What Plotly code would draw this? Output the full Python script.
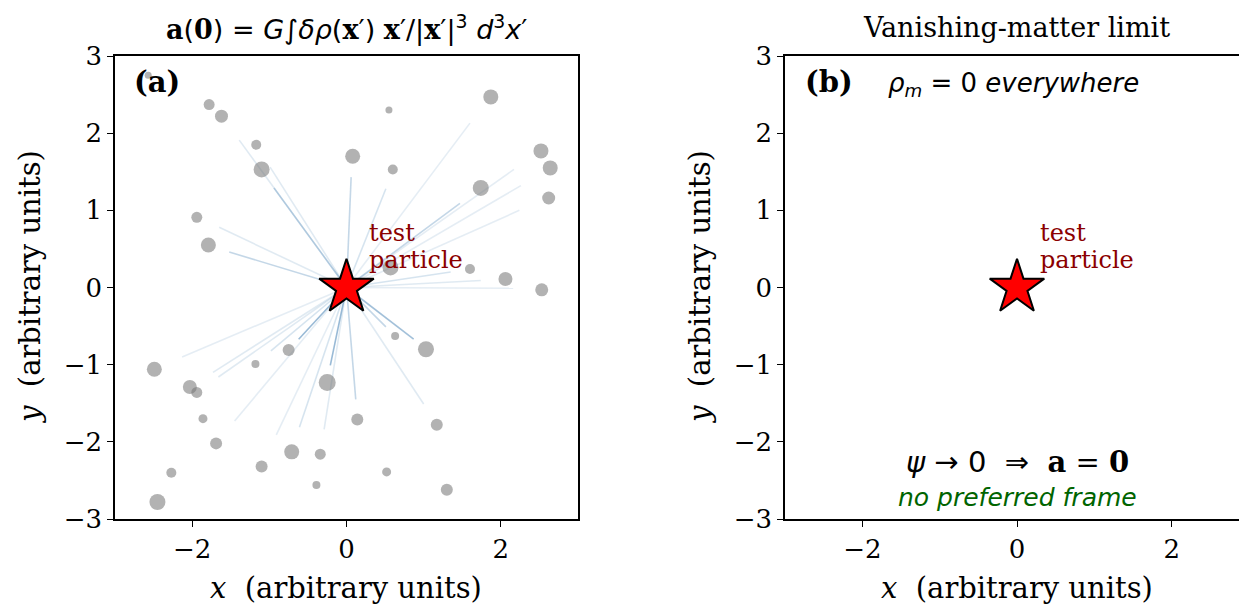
import plotly.graph_objects as go

# ---------------- data ----------------
# matter clumps (panel a): positions and marker diameters
dot_x = [-2.57, -1.78, -1.62, -1.17, -1.10, -1.94, -1.79, 0.08, 1.87, 0.55, 0.60, 2.52, 2.64, 2.62,
         1.74, 0.57, 1.60, 2.06, 2.53, -2.49, -2.03, -1.94, -1.18, -0.75, -0.25, -1.86, -1.69, -0.71,
         -0.34, -1.10, -2.27, -2.45, -0.39, 0.63, 1.03, 0.14, 1.17, 0.52, 1.30]
dot_y = [2.75, 2.37, 2.22, 1.85, 1.53, 0.91, 0.55, 1.70, 2.47, 2.30, 1.53, 1.77, 1.55, 1.16,
         1.29, 0.26, 0.24, 0.11, -0.03, -1.06, -1.29, -1.36, -0.99, -0.81, -1.23, -1.70, -2.02, -2.13,
         -2.16, -2.32, -2.40, -2.78, -2.56, -0.63, -0.80, -1.71, -1.78, -2.39, -2.62]
dot_size = [7, 11, 13, 10, 16, 11, 15, 15, 15, 7, 10, 15, 15, 13,
            16, 16, 10, 14, 13, 15, 14, 11, 8, 12, 17, 9, 12, 15,
            11, 12, 10, 16, 8, 8, 16, 12, 12, 9, 12]

# contribution vectors drawn from the test particle
line_x = [-1.39, -0.99, -0.94, -1.65, -1.52, 0.06, 0.51, 1.60, 1.47, 2.17, 2.26, 2.24, 1.35, 1.74, 2.16,
          -2.13, -1.73, -1.66, -0.98, -0.62, -1.45, -0.91, -0.61, -0.29, -0.21, 0.12, 1.00, 0.51, 0.87]
line_y = [1.91, 1.56, 1.29, 0.78, 0.46, 1.43, 1.28, 2.13, 1.09, 1.53, 1.32, 1.00, 0.20, 0.09, -0.01,
          -0.90, -1.10, -1.16, -0.82, -0.67, -1.73, -1.91, -1.81, -1.84, -1.01, -1.45, -1.51, -0.51, -0.67]
line_alpha = [0.17, 0.17, 0.32, 0.17, 0.32, 0.32, 0.22, 0.14, 0.32, 0.14, 0.14, 0.14, 0.22, 0.17, 0.14,
              0.14, 0.17, 0.17, 0.22, 0.55, 0.14, 0.14, 0.22, 0.17, 0.55, 0.32, 0.17, 0.32, 0.5]

particle_x = [0.0]
particle_y = [0.0]

x_ticks = [-2, 0, 2]
y_ticks = [-3, -2, -1, 0, 1, 2, 3]
axis_range = [-3, 3]

# ---------------- figure ----------------
# the page body adds an 8 px margin, so the figure is drawn 8 px smaller and offset
OFF = 8
W, H = 1247 - OFF, 606 - OFF
SERIF = "DejaVu Serif"
SANS = "DejaVu Sans"

fig = go.Figure()

for xe, ye, a in zip(line_x, line_y, line_alpha):
    fig.add_trace(go.Scatter(x=[0, xe], y=[0, ye], mode="lines",
                             line=dict(color=f"rgba(70,130,180,{a})", width=1.6),
                             hoverinfo="skip", showlegend=False, xaxis="x", yaxis="y"))

fig.add_trace(go.Scatter(x=dot_x, y=dot_y, mode="markers",
                         marker=dict(size=dot_size, color="rgba(118,118,118,0.8)", line=dict(width=0)),
                         showlegend=False, xaxis="x", yaxis="y"))

for xa, ya in (("x", "y"), ("x2", "y2")):
    fig.add_trace(go.Scatter(x=particle_x, y=particle_y, mode="markers",
                             marker=dict(symbol="star", size=41, color="red",
                                         line=dict(color="black", width=2)),
                             showlegend=False, xaxis=xa, yaxis=ya))

def px_x(p):
    return (p - OFF) / W

def px_y(p):
    return (H - (p - OFF)) / H

ax_common = dict(showline=True, linecolor="black", linewidth=1.5, ticks="outside",
                 ticklen=6, tickwidth=1.3, tickcolor="black", showgrid=False, zeroline=False,
                 automargin=False,
                 tickfont=dict(family=SERIF, size=26, color="black"))

fig.update_layout(
    width=W, height=H, autosize=False,
    margin=dict(l=0, r=0, t=0, b=0),
    paper_bgcolor="white", plot_bgcolor="white",
    xaxis=dict(domain=[px_x(115), px_x(578)], range=axis_range, tickvals=x_ticks,
               mirror=True, anchor="y", **ax_common),
    yaxis=dict(domain=[px_y(519), px_y(56)], range=axis_range, tickvals=y_ticks,
               mirror=True, anchor="x", **ax_common),
    xaxis2=dict(domain=[px_x(785), 1.0], range=[-3, 2.974], tickvals=x_ticks,
                mirror=True, anchor="y2", **ax_common),
    yaxis2=dict(domain=[px_y(519), px_y(56)], range=axis_range, tickvals=y_ticks,
                mirror=False, anchor="x2", **ax_common),
)

ann = []
bold_serif = lambda s: f"<span style='font-family:{SERIF}'><b>{s}</b></span>"
ann.append(dict(xref="paper", yref="paper", x=px_x(346), y=px_y(28), xanchor="center", yanchor="middle",
                text=(bold_serif("a") + "(" + bold_serif("0") + ") = <i>G</i>∫<i>δρ</i>(" + bold_serif("x") + "′) "
                      + bold_serif("x") + "′/|" + bold_serif("x") + "′|<sup>3</sup> <i>d</i><sup>3</sup><i>x</i>′"),
                font=dict(family=SANS, size=27, color="black"), showarrow=False))
ann.append(dict(xref="paper", yref="paper", x=px_x(1017), y=px_y(28), xanchor="center", yanchor="middle",
                text="Vanishing-matter limit", font=dict(family=SERIF, size=27, color="black"), showarrow=False))
ann.append(dict(xref="paper", yref="paper", x=px_x(132), y=px_y(82), xanchor="left", yanchor="middle",
                text="<b>(a)</b>", font=dict(family=SERIF, size=29, color="black"), showarrow=False))
ann.append(dict(xref="paper", yref="paper", x=px_x(803), y=px_y(82), xanchor="left", yanchor="middle",
                text="<b>(b)</b>", font=dict(family=SERIF, size=29, color="black"), showarrow=False))
ann.append(dict(xref="paper", yref="paper", x=px_x(886), y=px_y(84), xanchor="left", yanchor="middle",
                text="<i>ρ<sub>m</sub></i> = 0 <i>everywhere</i>",
                font=dict(family=SANS, size=26, color="black"), showarrow=False))
for xa, ya in (("x", "y"), ("x2", "y2")):
    ann.append(dict(xref=xa, yref=ya, x=0.27, y=0.70, xanchor="left", yanchor="middle", align="left",
                    text="test", font=dict(family=SERIF, size=24, color="#8b0000"),
                    showarrow=False))
    ann.append(dict(xref=xa, yref=ya, x=0.27, y=0.36, xanchor="left", yanchor="middle", align="left",
                    text="particle", font=dict(family=SERIF, size=24, color="#8b0000"),
                    showarrow=False))
ann.append(dict(xref="x2", yref="y2", x=0, y=-2.26, xanchor="center", yanchor="middle",
                text="<i>ψ</i> → 0  ⇒  " + bold_serif("a") + " = " + bold_serif("0"),
                font=dict(family=SANS, size=29, color="black"), showarrow=False))
ann.append(dict(xref="x2", yref="y2", x=0, y=-2.72, xanchor="center", yanchor="middle",
                text="<i>no preferred frame</i>", font=dict(family=SANS, size=25, color="#006400"),
                showarrow=False))
for cx in (346, 1017):
    ann.append(dict(xref="paper", yref="paper", x=px_x(cx), y=px_y(588), xanchor="center", yanchor="middle",
                    text="<i>x</i>  (arbitrary units)", font=dict(family=SERIF, size=29, color="black"),
                    showarrow=False))
for cx in (30, 700):
    ann.append(dict(xref="paper", yref="paper", x=px_x(cx), y=px_y(287), xanchor="center", yanchor="middle",
                    text="<i>y</i>  (arbitrary units)", textangle=-90,
                    font=dict(family=SERIF, size=29, color="black"), showarrow=False))
fig.update_layout(annotations=ann)

fig.write_html("out.html")
